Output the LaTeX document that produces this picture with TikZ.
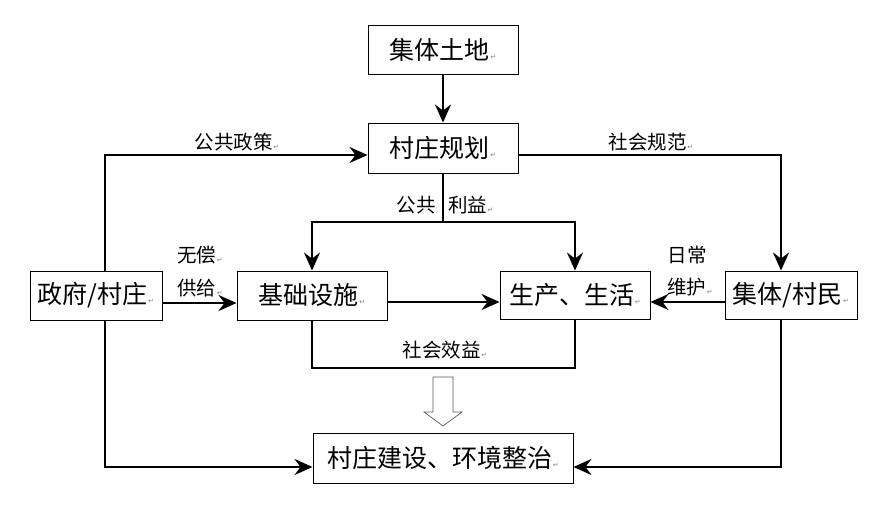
\documentclass[tikz,border=0pt]{standalone}
\usepackage{fontspec}
\setmainfont{Noto Sans CJK SC}
\newfontfamily\dvfont{DejaVu Sans}
\usetikzlibrary{arrows.meta}
\newcommand{\rtmark}{\hspace{0.5pt}{\dvfont\fontsize{7}{7}\selectfont\color{gray}↵}}
\begin{document}
\begin{tikzpicture}[x=1pt,y=-1pt,
  box/.style={draw=black, line width=0.9pt, inner sep=0pt, font=\fontsize{25}{25}\selectfont},
  lbl/.style={inner sep=0pt, font=\fontsize{19.5}{19.5}\selectfont},
  conn/.style={line width=2.2pt},
  arr/.style={conn, -{Stealth[length=18pt,width=16pt,inset=6pt]}}]
\useasboundingbox (0,0) rectangle (891,506);
% boxes
\node[box, minimum width=150pt, minimum height=49pt] (land)  at (443,49.5) {集体土地\rtmark};
\node[box, minimum width=150pt, minimum height=50pt] (plan)  at (443,148) {村庄规划\rtmark};
\node[box, minimum width=132pt, minimum height=49pt] (gov)   at (96,295.5) {政府/村庄\rtmark};
\node[box, minimum width=150pt, minimum height=49pt] (infra) at (312,295.5) {基础设施\rtmark};
\node[box, minimum width=150pt, minimum height=48pt] (life)  at (575,295) {生产、生活\rtmark};
\node[box, minimum width=132pt, minimum height=48pt] (coll)  at (791,295) {集体/村民\rtmark};
\node[box, minimum width=260pt, minimum height=50pt] (build) at (443,458) {村庄建设、环境整治\rtmark};
% labels
\node[lbl] (lpol)  at (237,142) {公共政策\rtmark};
\node[lbl] (lnorm) at (651,142) {社会规范\rtmark};
\node[lbl, anchor=east] (lpub) at (436,205) {公共};
\node[lbl, anchor=west] (lben) at (448,205) {利益\rtmark};
\node[lbl] (lfree) at (200,255) {无偿\rtmark};
\node[lbl] (lsup)  at (200,288) {供给\rtmark};
\node[lbl] (lday)  at (687,255) {日常};
\node[lbl] (lmnt)  at (690,287) {维护\rtmark};
\node[lbl] (lsoc)  at (445,350) {社会效益\rtmark};
% connectors
\draw[arr] (land) -- (plan);
\draw[arr] (gov.north -| 105,0) |- (plan.west |- 0,155);
\draw[arr] (plan.east |- 0,155) -| (coll.north -| 781,0);
\draw[conn] (plan.south) -- (443,222) coordinate (j);
\draw[arr] (j) -| (infra.north);
\draw[arr] (j) -| (life.north);
\draw[arr] (gov.east |- 0,303) -- (infra.west |- 0,303);
\draw[arr] (infra.east |- 0,302) -- (life.west |- 0,302);
\draw[arr] (coll.west |- 0,302) -- (life.east |- 0,302);
\draw[conn] (infra.south) -- (312,368) -- (575,368) -- (life.south);
\draw[arr] (gov.south -| 105,0) |- (build.west |- 0,467);
\draw[arr] (coll.south -| 781,0) |- (build.east |- 0,467);
% hollow arrow
\draw[line width=0.7pt, draw=black!65, fill=white] (433,377) -- (453,377) -- (453,412) -- (462,412) -- (443,426) -- (424,412) -- (433,412) -- cycle;
\end{tikzpicture}
\end{document}
